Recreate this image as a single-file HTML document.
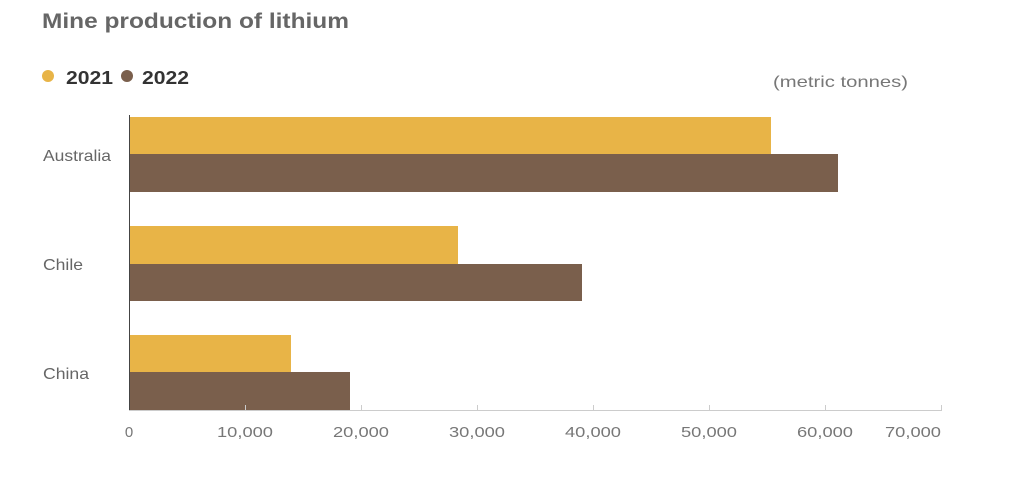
<!DOCTYPE html>
<html><head><style>
html,body{margin:0;padding:0;background:#fff;width:1024px;height:503px;overflow:hidden}
</style></head><body>
<svg width="1024" height="503" xmlns="http://www.w3.org/2000/svg" font-family="Liberation Sans, sans-serif">
<text x="42" y="28" font-size="21" font-weight="bold" fill="#666" textLength="307" lengthAdjust="spacingAndGlyphs">Mine production of lithium</text>
<circle cx="48" cy="76" r="6" fill="#E8B447"/>
<text x="66" y="84" font-size="18" font-weight="bold" fill="#333" textLength="47" lengthAdjust="spacingAndGlyphs">2021</text>
<circle cx="127" cy="76" r="6" fill="#7A5F4C"/>
<text x="142" y="84" font-size="18" font-weight="bold" fill="#333" textLength="47" lengthAdjust="spacingAndGlyphs">2022</text>
<text x="773" y="87" font-size="16" fill="#777" textLength="135" lengthAdjust="spacingAndGlyphs">(metric tonnes)</text>
<g fill="#E8B447">
<rect x="129" y="117" width="642" height="37"/>
<rect x="129" y="226" width="329" height="38"/>
<rect x="129" y="335" width="162" height="37"/>
</g>
<g fill="#7A5F4C">
<rect x="129" y="154" width="709" height="38"/>
<rect x="129" y="264" width="453" height="37"/>
<rect x="129" y="372" width="221" height="38"/>
</g>
<line x1="129.5" y1="115" x2="129.5" y2="410" stroke="#444" stroke-width="1"/>
<line x1="129" y1="410.5" x2="942" y2="410.5" stroke="#ccc" stroke-width="1"/>
<g stroke="#ccc">
<line x1="245.5" y1="405" x2="245.5" y2="410"/><line x1="361.5" y1="405" x2="361.5" y2="410"/>
<line x1="477.5" y1="405" x2="477.5" y2="410"/><line x1="593.5" y1="405" x2="593.5" y2="410"/>
<line x1="709.5" y1="405" x2="709.5" y2="410"/><line x1="825.5" y1="405" x2="825.5" y2="410"/>
<line x1="941.5" y1="405" x2="941.5" y2="410"/>
</g>
<g font-size="15" fill="#777" text-anchor="middle">
<text x="129" y="437">0</text>
<text x="245" y="437" textLength="56" lengthAdjust="spacingAndGlyphs">10,000</text>
<text x="361" y="437" textLength="56" lengthAdjust="spacingAndGlyphs">20,000</text>
<text x="477" y="437" textLength="56" lengthAdjust="spacingAndGlyphs">30,000</text>
<text x="593" y="437" textLength="56" lengthAdjust="spacingAndGlyphs">40,000</text>
<text x="709" y="437" textLength="56" lengthAdjust="spacingAndGlyphs">50,000</text>
<text x="825" y="437" textLength="56" lengthAdjust="spacingAndGlyphs">60,000</text>
<text x="913" y="437" textLength="56" lengthAdjust="spacingAndGlyphs">70,000</text>
</g>
<g font-size="16" fill="#666">
<text x="43" y="161" textLength="68" lengthAdjust="spacingAndGlyphs">Australia</text>
<text x="43" y="270" textLength="40" lengthAdjust="spacingAndGlyphs">Chile</text>
<text x="43" y="379" textLength="46" lengthAdjust="spacingAndGlyphs">China</text>
</g>
</svg>
</body></html>
